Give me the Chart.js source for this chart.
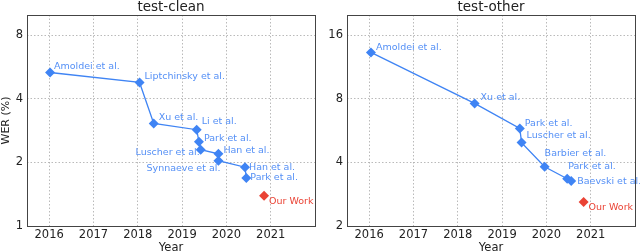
<!DOCTYPE html>
<html>
<head>
<meta charset="utf-8">
<script src="https://cdn.jsdelivr.net/npm/chart.js@4.4.0/dist/chart.umd.min.js"></script>
<style>
    body { margin: 0; background: #fff; }
    .box { position: absolute; top: 0; width: 320px; height: 251px; }
</style>
</head>
<body>
<div class="box" style="left:0"><canvas id="cleanChart" width="320" height="251"></canvas></div>
<div class="box" style="left:320px"><canvas id="otherChart" width="320" height="251"></canvas></div>
<script>
// ====== Data ======
const yearTicks = [2016, 2017, 2018, 2019, 2020, 2021];

// test-clean
const cleanNames = ['Amoldei et al.', 'Liptchinsky et al.', 'Xu et al.', 'Li et al.', 'Park et al.',
    'Luscher et al.', 'Han et al.', 'Synnaeve et al.', 'Han et al.', 'Park et al.'];
const cleanYears = [2016.02, 2018.04, 2018.36, 2019.33, 2019.38, 2019.42, 2019.82, 2019.82, 2020.42, 2020.45];
const cleanWer = [5.34, 4.79, 3.06, 2.86, 2.51, 2.30, 2.20, 2.04, 1.90, 1.69];
const cleanOurYear = [2020.85];
const cleanOurWer = [1.39];
const cleanWerTicks = [1, 2, 4, 8];

// test-other
const otherNames = ['Amoldei et al.', 'Xu et al.', 'Park et al.', 'Luscher et al.', 'Barbier et al.',
    'Park et al.', 'Baevski et al.'];
const otherYears = [2016.04, 2018.38, 2019.40, 2019.44, 2019.96, 2020.47, 2020.56];
const otherWer = [13.3, 7.62, 5.80, 4.97, 3.82, 3.35, 3.27];
const otherOurYear = [2020.84];
const otherOurWer = [2.60];
const otherWerTicks = [2, 4, 8, 16];

const ourLabel = 'Our Work';

// label offsets from the marker: [dx, dy, align]
const cleanLabelPos = [[4, -6, 'left'], [5, -6, 'left'], [5, -6, 'left'], [5, -8, 'left'], [5, -3, 'left'],
    [-1, 3, 'right'], [5, -3, 'left'], [2, 8, 'right'], [4, 0, 'left'], [4, 0, 'left']];
const otherLabelPos = [[5, -5, 'left'], [6, -6, 'left'], [5, -5, 'left'], [5, -7, 'left'], [0, -13, 'left'],
    [1, -12, 'left'], [6, 1, 'left']];
const ourLabelPos = [5, 6, 'left'];

const BLUE = '#3f84f4';
const LABEL_BLUE = '#5590f6';
const RED = '#ea4335';
const FONT = 'DejaVu Sans';

// ====== Plugins ======
const framePlugin = {
    id: 'frame',
    afterDraw(chart) {
        const a = chart.chartArea, c = chart.ctx;
        c.save();
        c.strokeStyle = '#444';
        c.lineWidth = 1;
        c.strokeRect(Math.round(a.left) + 0.5, Math.round(a.top) + 0.5,
            Math.round(a.right - a.left), Math.round(a.bottom - a.top));
        c.restore();
    }
};

const headPlugin = {
    id: 'head',
    afterDraw(chart, args, opts) {
        const a = chart.chartArea, c = chart.ctx;
        c.save();
        c.font = '13.5px "' + FONT + '"';
        c.fillStyle = '#222';
        c.textAlign = 'center';
        c.textBaseline = 'middle';
        c.fillText(opts.text, (a.left + a.right) / 2, 7);
        c.restore();
    }
};

const namePlugin = {
    id: 'names',
    afterDatasetsDraw(chart, args, opts) {
        const c = chart.ctx;
        c.save();
        c.font = '9.5px "' + FONT + '"';
        c.textBaseline = 'middle';
        chart.data.datasets.forEach((ds, di) => {
            const meta = chart.getDatasetMeta(di);
            meta.data.forEach((pt, i) => {
                const pos = ds.labelPos[i];
                c.fillStyle = ds.labelColor;
                c.textAlign = pos[2];
                c.fillText(ds.names[i], pt.x + pos[0], pt.y + pos[1]);
            });
        });
        c.restore();
    }
};

// ====== Chart builder ======
function makeChart(id, title, names, years, wer, ourYear, ourWer, werTicks, labelPos, yMin, yMax, showYTitle) {
    const ctx = document.getElementById(id).getContext('2d');
    return new Chart(ctx, {
        type: 'scatter',
        data: {
            datasets: [{
                data: years.map((x, i) => ({ x: x, y: wer[i] })),
                names: names,
                labelPos: labelPos,
                labelColor: LABEL_BLUE,
                showLine: true,
                borderColor: BLUE,
                borderWidth: 1.3,
                backgroundColor: BLUE,
                pointStyle: 'rectRot',
                pointRadius: 5,
                pointBorderWidth: 0
            }, {
                data: ourYear.map((x, i) => ({ x: x, y: ourWer[i] })),
                names: [ourLabel],
                labelPos: [ourLabelPos],
                labelColor: RED,
                showLine: false,
                backgroundColor: RED,
                pointStyle: 'rectRot',
                pointRadius: 5,
                pointBorderWidth: 0
            }]
        },
        options: {
            responsive: false,
            animation: false,
            layout: { padding: { top: 15, right: 2, left: 0, bottom: 0 } },
            plugins: {
                legend: { display: false },
                tooltip: { enabled: false },
                head: { text: title }
            },
            scales: {
                x: {
                    type: 'linear',
                    min: 2015.5,
                    max: 2022,
                    afterBuildTicks: s => { s.ticks = yearTicks.map(v => ({ value: v })); },
                    afterFit: s => { s.height = 25; },
                    ticks: {
                        callback: v => String(v),
                        font: { family: FONT, size: 11.5 },
                        color: '#222',
                        padding: 2,
                        maxRotation: 0
                    },
                    grid: { color: '#a8a8a8', lineWidth: 0.8, drawTicks: false },
                    border: { display: false, dash: [1.5, 2] },
                    title: {
                        display: true,
                        text: 'Year',
                        font: { family: FONT, size: 11.5 },
                        color: '#222',
                        padding: { top: 0, bottom: -4 }
                    }
                },
                y: {
                    type: 'logarithmic',
                    min: yMin,
                    max: yMax,
                    afterBuildTicks: s => { s.ticks = werTicks.map(v => ({ value: v })); },
                    afterFit: s => { s.width = 27; },
                    ticks: {
                        callback: v => String(v),
                        font: { family: FONT, size: 11.5 },
                        color: '#222',
                        padding: 4
                    },
                    grid: { color: '#a8a8a8', lineWidth: 0.8, drawTicks: false },
                    border: { display: false, dash: [1.5, 2] },
                    title: {
                        display: showYTitle,
                        text: 'WER (%)',
                        font: { family: FONT, size: 11 },
                        color: '#222',
                        padding: 0
                    }
                }
            }
        },
        plugins: [framePlugin, headPlugin, namePlugin]
    });
}

makeChart('cleanChart', 'test-clean', cleanNames, cleanYears, cleanWer, cleanOurYear, cleanOurWer,
    cleanWerTicks, cleanLabelPos, 1, 10, true);
makeChart('otherChart', 'test-other', otherNames, otherYears, otherWer, otherOurYear, otherOurWer,
    otherWerTicks, otherLabelPos, 2, 20, false);
</script>
</body>
</html>
